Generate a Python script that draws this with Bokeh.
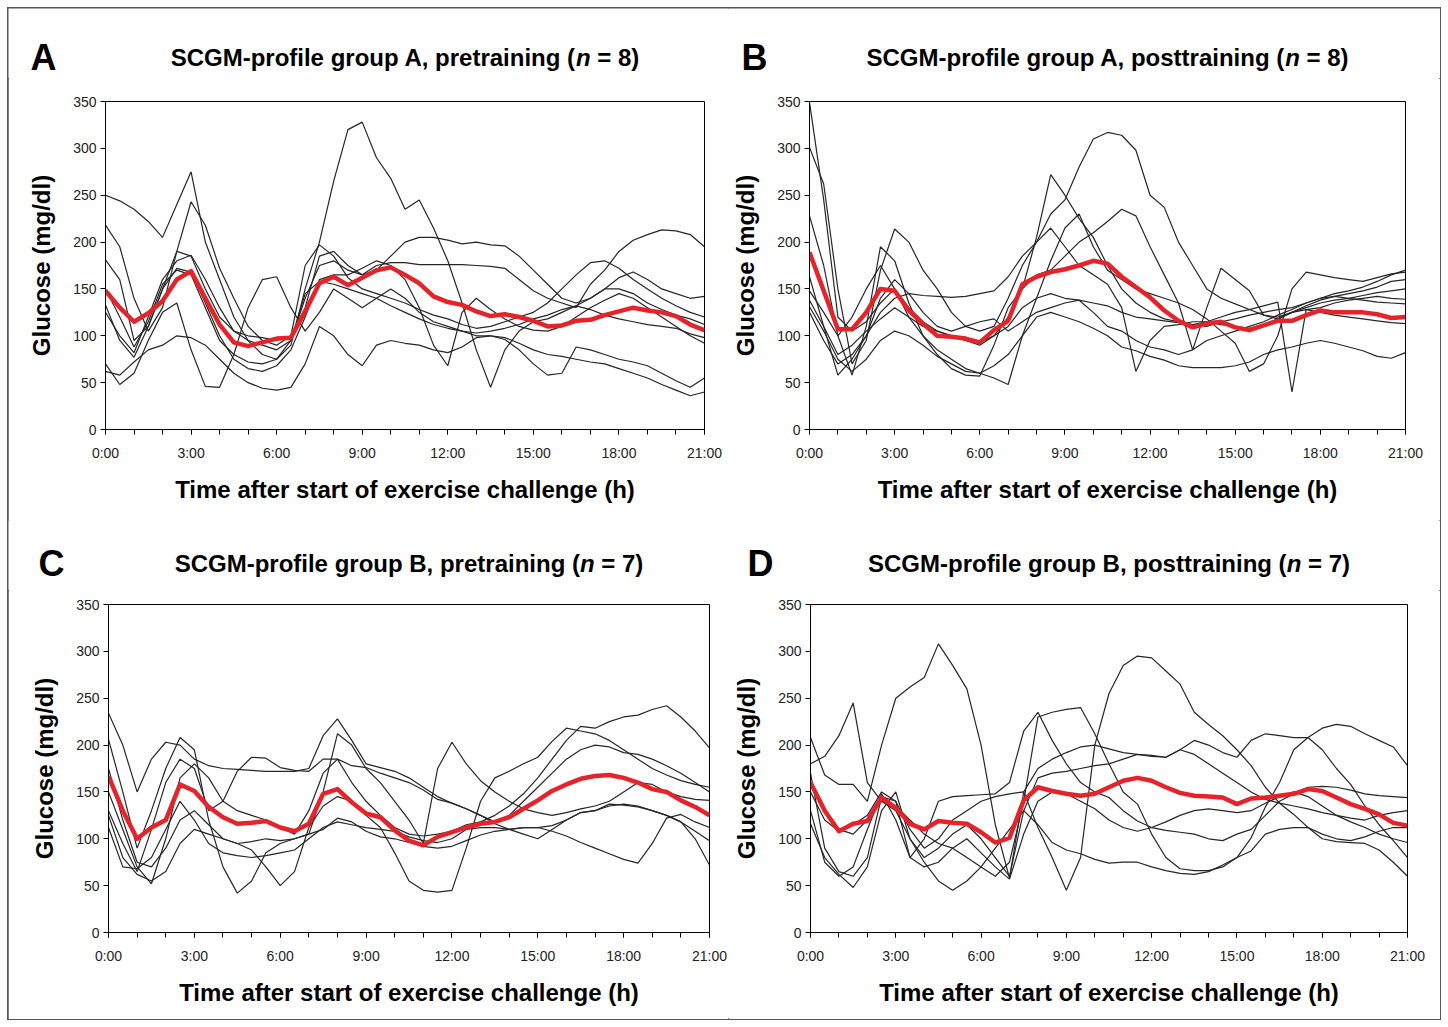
from bokeh.plotting import figure
from bokeh.layouts import column, row
from bokeh.models import Range1d, FixedTicker
from bokeh.core.properties import value
from bokeh.embed import file_html
from bokeh.resources import INLINE

# ---------------- data ----------------
HOURS = [i * 0.5 for i in range(43)]          # 0:00 .. 21:00, half-hour samples
X_TICKS = [0, 3, 6, 9, 12, 15, 18, 21]
X_TICK_LABELS = ["0:00", "3:00", "6:00", "9:00", "12:00", "15:00", "18:00", "21:00"]
X_MINOR = list(range(22))
Y_TICKS = [0, 50, 100, 150, 200, 250, 300, 350]

# title pieces: (before italic n, italic n, after the space)
TITLES = [
    ("SCGM-profile group A, pretraining (", "n", "= 8)"),
    ("SCGM-profile group A, posttraining (", "n", "= 8)"),
    ("SCGM-profile group B, pretraining (", "n", "= 7)"),
    ("SCGM-profile group B, posttraining (", "n", "= 7)"),
]
LETTERS = ["A", "B", "C", "D"]
X_LABEL = "Time after start of exercise challenge (h)"
Y_LABEL = "Glucose (mg/dl)"

A1 = [250, 244, 235, 222, 205, 240, 275, 200, 160, 120, 95, 80, 75, 90, 150, 200, 265, 320, 328, 290, 268, 235, 245, 215, 180, 135, 85, 45, 85, 105, 115, 118, 125, 132, 140, 150, 150, 145, 135, 128, 122, 118, 112]
A2 = [218, 195, 140, 105, 130, 190, 243, 218, 172, 140, 110, 95, 90, 100, 130, 185, 190, 175, 165, 170, 185, 200, 205, 205, 202, 198, 200, 197, 196, 185, 170, 155, 140, 135, 140, 150, 162, 168, 160, 150, 145, 140, 142]
A3 = [181, 160, 95, 110, 150, 190, 185, 150, 120, 105, 95, 90, 85, 95, 140, 175, 180, 170, 165, 175, 178, 178, 176, 176, 176, 176, 175, 174, 172, 160, 148, 140, 135, 130, 155, 170, 190, 202, 208, 213, 212, 208, 195]
A4 = [133, 95, 77, 110, 150, 172, 168, 135, 100, 75, 65, 62, 68, 85, 120, 160, 165, 165, 172, 180, 175, 160, 130, 90, 68, 125, 140, 128, 118, 110, 106, 105, 110, 120, 130, 138, 145, 140, 130, 120, 110, 100, 92]
A5 = [70, 48, 60, 95, 125, 135, 85, 46, 45, 80, 130, 160, 163, 130, 105, 125, 150, 140, 130, 140, 150, 140, 125, 115, 110, 105, 100, 100, 98, 92, 85, 80, 78, 75, 72, 70, 65, 60, 55, 48, 42, 36, 40]
A6 = [62, 58, 72, 85, 90, 100, 98, 90, 75, 60, 50, 44, 42, 45, 70, 110, 100, 80, 68, 90, 95, 92, 90, 85, 82, 88, 98, 100, 96, 85, 70, 58, 60, 88, 85, 80, 75, 72, 68, 60, 52, 45, 55]
A7 = [125, 100, 82, 120, 160, 180, 186, 160, 130, 105, 100, 98, 95, 100, 175, 197, 185, 162, 150, 145, 140, 135, 128, 122, 118, 112, 108, 110, 115, 120, 125, 135, 150, 165, 178, 180, 172, 160, 150, 140, 132, 125, 120]
A8 = [150, 120, 88, 115, 155, 170, 165, 130, 95, 80, 72, 70, 75, 95, 145, 158, 155, 150, 145, 140, 132, 125, 118, 112, 108, 105, 103, 105, 108, 112, 118, 122, 128, 132, 128, 122, 118, 115, 112, 110, 108, 102, 98]
A_MEAN = [148, 130, 115, 124, 137, 160, 169, 140, 112, 93, 89, 93, 97, 98, 126, 156, 163, 154, 162, 170, 173, 165, 156, 142, 136, 133, 126, 121, 123, 120, 116, 110, 111, 116, 117, 122, 126, 130, 127, 125, 121, 112, 106]

B1 = [349, 245, 120, 105, 115, 135, 150, 130, 115, 105, 100, 95, 90, 100, 120, 150, 205, 272, 250, 225, 205, 175, 150, 135, 125, 118, 115, 112, 110, 115, 118, 122, 125, 128, 130, 135, 140, 145, 148, 152, 158, 165, 170]
B2 = [301, 262, 150, 70, 95, 170, 214, 200, 170, 150, 125, 110, 105, 110, 140, 175, 200, 230, 245, 280, 310, 317, 314, 298, 250, 237, 200, 175, 150, 140, 134, 128, 122, 120, 125, 128, 130, 135, 138, 140, 142, 140, 139]
B3 = [228, 175, 100, 58, 110, 195, 180, 135, 100, 80, 65, 58, 57, 90, 130, 150, 165, 170, 185, 200, 210, 222, 235, 228, 195, 165, 135, 85, 130, 172, 160, 148, 122, 118, 125, 132, 138, 142, 145, 148, 152, 158, 160]
B4 = [163, 110, 58, 75, 100, 125, 140, 145, 143, 142, 141, 142, 145, 148, 163, 185, 200, 215, 195, 175, 165, 155, 130, 62, 95, 110, 112, 115, 115, 112, 110, 108, 112, 118, 125, 130, 135, 138, 140, 143, 146, 148, 150]
B5 = [148, 125, 100, 120, 150, 175, 150, 120, 100, 85, 75, 65, 60, 55, 48, 100, 140, 180, 215, 230, 195, 170, 160, 150, 145, 140, 135, 128, 118, 105, 92, 62, 70, 100, 150, 168, 165, 162, 160, 158, 162, 166, 168]
B6 = [138, 110, 80, 90, 105, 118, 130, 120, 110, 105, 100, 95, 93, 100, 110, 130, 140, 145, 140, 138, 135, 132, 125, 120, 118, 116, 114, 112, 115, 120, 125, 128, 132, 136, 40, 128, 125, 122, 120, 118, 116, 114, 113]
B7 = [131, 105, 75, 62, 75, 95, 105, 100, 90, 78, 70, 62, 60, 68, 80, 100, 120, 125, 120, 115, 108, 100, 88, 84, 78, 74, 68, 66, 66, 66, 68, 72, 80, 85, 88, 92, 95, 92, 88, 84, 78, 76, 82]
B8 = [125, 95, 70, 80, 100, 140, 160, 145, 125, 110, 105, 110, 115, 118, 105, 115, 125, 130, 135, 138, 125, 110, 105, 95, 88, 85, 80, 85, 95, 100, 105, 110, 115, 122, 128, 135, 140, 142, 140, 138, 136, 135, 134]
B_MEAN = [189, 148, 107, 107, 125, 150, 148, 127, 113, 100, 99, 97, 93, 106, 116, 155, 163, 168, 171, 175, 180, 177, 163, 152, 141, 127, 116, 109, 113, 115, 109, 106, 111, 116, 116, 122, 127, 125, 125, 125, 123, 119, 120]

C1 = [234, 200, 150, 185, 203, 200, 185, 178, 175, 174, 173, 172, 172, 172, 175, 210, 228, 205, 180, 176, 172, 165, 155, 145, 138, 132, 125, 116, 110, 105, 100, 110, 120, 128, 130, 135, 137, 135, 130, 125, 118, 108, 98]
C2 = [206, 150, 90, 130, 175, 208, 195, 120, 70, 42, 55, 85, 95, 100, 105, 150, 212, 200, 175, 160, 140, 120, 95, 175, 203, 180, 162, 150, 140, 132, 128, 125, 128, 132, 135, 140, 150, 160, 158, 150, 145, 142, 141]
C3 = [130, 95, 65, 110, 160, 185, 175, 130, 140, 172, 187, 186, 176, 173, 172, 185, 185, 160, 140, 125, 112, 105, 103, 105, 108, 115, 118, 125, 135, 148, 165, 185, 205, 220, 218, 225, 230, 232, 238, 242, 230, 215, 197]
C4 = [125, 80, 62, 55, 65, 95, 110, 105, 100, 95, 88, 70, 50, 65, 112, 135, 145, 140, 125, 112, 85, 55, 45, 43, 45, 90, 140, 165, 172, 180, 187, 204, 218, 215, 212, 205, 195, 185, 175, 168, 162, 158, 155]
C5 = [112, 70, 68, 80, 110, 140, 120, 95, 85, 82, 80, 82, 85, 88, 100, 112, 118, 115, 112, 110, 108, 102, 98, 96, 100, 110, 112, 112, 110, 112, 112, 114, 120, 128, 130, 137, 136, 134, 130, 125, 118, 100, 72]
C6 = [175, 120, 75, 70, 90, 120, 130, 115, 100, 95, 97, 100, 98, 100, 105, 110, 122, 118, 108, 102, 100, 96, 92, 90, 92, 98, 104, 108, 110, 112, 112, 108, 103, 96, 90, 84, 78, 74, 95, 122, 126, 118, 112]
C7 = [150, 110, 70, 52, 100, 165, 180, 165, 140, 130, 125, 120, 112, 105, 130, 170, 185, 178, 176, 170, 165, 160, 152, 142, 138, 132, 125, 118, 125, 140, 155, 170, 185, 195, 200, 198, 192, 190, 185, 178, 170, 160, 150]
C_MEAN = [167, 130, 100, 112, 120, 158, 151, 134, 123, 116, 117, 119, 112, 108, 116, 148, 153, 139, 127, 123, 109, 98, 93, 102, 107, 112, 116, 118, 123, 132, 141, 151, 158, 164, 167, 168, 165, 160, 153, 150, 141, 134, 125]

D1 = [180, 188, 210, 245, 160, 140, 135, 120, 105, 95, 90, 80, 70, 60, 75, 140, 230, 235, 238, 240, 212, 180, 150, 137, 105, 80, 68, 66, 66, 70, 80, 101, 134, 160, 195, 208, 195, 175, 158, 135, 115, 98, 80]
D2 = [208, 168, 158, 158, 140, 200, 250, 262, 272, 308, 285, 260, 200, 115, 58, 150, 175, 185, 192, 198, 200, 196, 192, 190, 189, 187, 195, 205, 200, 192, 187, 205, 212, 210, 208, 208, 218, 222, 220, 212, 205, 198, 178]
D3 = [150, 120, 108, 115, 125, 150, 140, 110, 90, 100, 120, 130, 140, 145, 148, 150, 112, 80, 45, 80, 200, 255, 285, 295, 293, 279, 265, 235, 222, 210, 195, 178, 155, 138, 126, 112, 100, 97, 96, 95, 88, 75, 60]
D4 = [130, 75, 60, 70, 110, 148, 120, 80, 100, 140, 145, 146, 147, 148, 160, 215, 235, 205, 180, 160, 150, 144, 130, 119, 112, 109, 107, 105, 100, 98, 105, 110, 125, 140, 148, 155, 156, 155, 152, 148, 146, 145, 144]
D5 = [116, 80, 62, 48, 70, 130, 150, 100, 75, 55, 45, 55, 70, 90, 110, 130, 115, 96, 88, 84, 78, 74, 75, 75, 70, 66, 63, 62, 65, 72, 80, 87, 105, 110, 112, 112, 105, 100, 98, 102, 108, 112, 112]
D6 = [160, 130, 110, 105, 120, 140, 130, 100, 80, 90, 105, 115, 100, 80, 60, 130, 165, 170, 172, 175, 178, 180, 185, 190, 188, 187, 195, 190, 180, 170, 160, 150, 142, 138, 135, 132, 128, 125, 122, 120, 125, 128, 130]
D7 = [170, 90, 65, 60, 80, 145, 140, 80, 70, 75, 90, 100, 85, 70, 57, 105, 140, 150, 148, 140, 132, 120, 112, 108, 112, 118, 125, 130, 132, 130, 128, 130, 138, 145, 150, 145, 135, 125, 118, 112, 105, 100, 96]
D_MEAN = [160, 130, 108, 116, 119, 144, 133, 116, 110, 119, 117, 116, 107, 96, 101, 141, 155, 151, 148, 146, 148, 155, 162, 165, 162, 155, 149, 146, 145, 144, 137, 143, 144, 146, 148, 153, 151, 144, 137, 132, 126, 117, 114]

PANEL_TRACES = [
    [A1, A2, A3, A4, A5, A6, A7, A8],
    [B1, B2, B3, B4, B5, B6, B7, B8],
    [C1, C2, C3, C4, C5, C6, C7],
    [D1, D2, D3, D4, D5, D6, D7],
]
PANEL_MEANS = [A_MEAN, B_MEAN, C_MEAN, D_MEAN]

# ---------------- layout (pixels) ----------------
# plot: width, height, border left/right/top/bottom
GEOM = [
    (720, 442, 97, 24, 21, 91),
    (712, 442, 81, 35, 23, 91),
    (720, 429, 100, 19, 13, 86),
    (712, 429, 82, 33, 14, 87),
]
# header: width, height, letter x, title centre x, text y (from header bottom)
HEAD = [
    (720, 70, 35, 396.5, 21),
    (712, 70, 26, 379.0, 21),
    (720, 70, 43, 400.5, 27),
    (712, 70, 32, 380.5, 27),
]

FONT = "Liberation Sans"
TITLE_PX = 24
BLACK = "#262626"
RED = "#e5232b"

# Arial/Liberation Sans Bold advance widths (per 1000 em) for title layout
BOLD_W = {"S": 667, "C": 722, "G": 778, "M": 833, "-": 333, "p": 611, "r": 389, "o": 611,
          "f": 333, "i": 278, "l": 278, "e": 556, " ": 278, "g": 611, "u": 611, "A": 722,
          "B": 722, ",": 278, "t": 333, "a": 556, "n": 611, "s": 556, "(": 333, ")": 333,
          "=": 584, "8": 556, "7": 556}


def text_width(s, px):
    return sum(BOLD_W.get(c, 556) for c in s) * px / 1000.0


def make_header(i):
    w, h, lx, cx, ty = HEAD[i]
    p = figure(width=w, height=h, output_backend="svg", toolbar_location=None,
               x_range=Range1d(0, w), y_range=Range1d(0, h),
               x_axis_type=None, y_axis_type=None, min_border=0,
               background_fill_color="white", border_fill_color="white")
    p.grid.visible = False
    p.outline_line_color = None
    p.text(x=[lx], y=[ty], text=[LETTERS[i]], text_font=value(FONT),
           text_font_style="bold", text_font_size="36px", text_align="center",
           text_baseline="middle", text_color="black")
    a, n, b = TITLES[i]
    wa, wn, wb = text_width(a, TITLE_PX), text_width(n, TITLE_PX), text_width(b, TITLE_PX)
    ws = text_width(" ", TITLE_PX)
    x0 = cx - (wa + wn + ws + wb) / 2
    p.text(x=[x0, x0 + wa + wn + ws], y=[ty, ty], text=[a, b], text_font=value(FONT),
           text_font_style="bold", text_font_size=f"{TITLE_PX}px", text_align="left",
           text_baseline="middle", text_color="black")
    p.text(x=[x0 + wa], y=[ty], text=[n], text_font=value(FONT),
           text_font_style="bold italic", text_font_size=f"{TITLE_PX}px", text_align="left",
           text_baseline="middle", text_color="black")
    return p


def make_panel(i):
    w, h, bl, br, bt, bb = GEOM[i]
    p = figure(width=w, height=h, output_backend="svg", toolbar_location=None,
               x_range=Range1d(0, 21), y_range=Range1d(0, 350),
               min_border_left=bl, min_border_right=br,
               min_border_top=bt, min_border_bottom=bb,
               background_fill_color="white", border_fill_color="white")
    p.grid.visible = False
    p.outline_line_color = "black"
    p.outline_line_width = 1

    for tr in PANEL_TRACES[i]:
        p.line(HOURS, tr, line_color=BLACK, line_width=1.2)
    p.line(HOURS, PANEL_MEANS[i], line_color=RED, line_width=4.5, line_join="round")

    xa = p.xaxis[0]
    xa.ticker = FixedTicker(ticks=X_TICKS, minor_ticks=X_MINOR)
    xa.major_label_overrides = {t: s for t, s in zip(X_TICKS, X_TICK_LABELS)}
    ya = p.yaxis[0]
    ya.ticker = FixedTicker(ticks=Y_TICKS, minor_ticks=[])
    for ax in (xa, ya):
        ax.axis_line_color = "black"
        ax.axis_line_width = 1
        ax.major_tick_in = 0
        ax.major_tick_out = 5
        ax.minor_tick_in = 0
        ax.minor_tick_out = 5
        ax.major_tick_line_color = "black"
        ax.minor_tick_line_color = "black"
        ax.major_label_text_font = FONT
        ax.major_label_text_font_size = "14px"
        ax.major_label_text_color = "#222222"
        ax.axis_label_text_font = FONT
        ax.axis_label_text_font_style = "bold"
        ax.axis_label_text_font_size = "24px"
        ax.axis_label_text_color = "black"
    xa.axis_label = X_LABEL
    xa.major_label_standoff = 10
    xa.axis_label_standoff = 12
    ya.axis_label = Y_LABEL
    ya.major_label_standoff = 4
    ya.axis_label_standoff = 15
    return p


heads = [make_header(i) for i in range(4)]
panels = [make_panel(i) for i in range(4)]
layout = column(
    row(heads[0], heads[1]),
    row(panels[0], panels[1]),
    row(heads[2], heads[3]),
    row(panels[2], panels[3]),
    styles={"margin": "8px", "outline": "2px solid #555555", "outline-offset": "-1px"},
)

open("out.html", "w").write(file_html(layout, INLINE))
